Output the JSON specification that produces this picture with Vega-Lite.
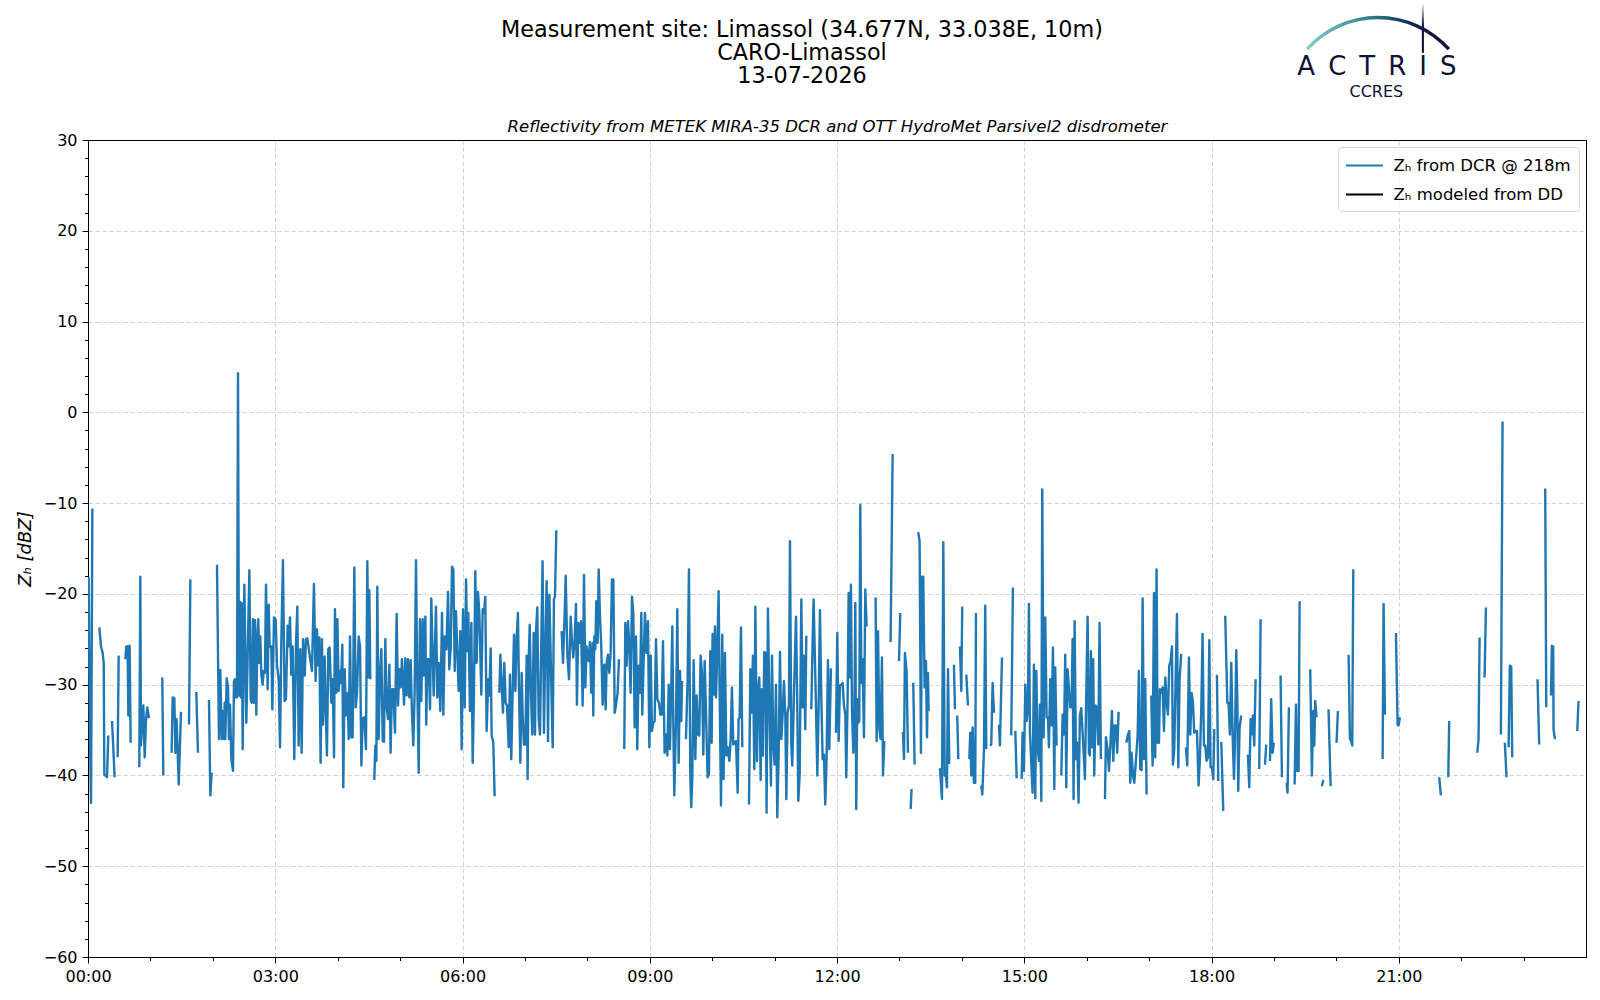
{
  "$schema": "https://vega.github.io/schema/vega-lite/v6.json",
  "description": "Reflectivity from METEK MIRA-35 DCR, Limassol, 13-07-2026",
  "width": 1498,
  "height": 817,
  "autosize": {"type": "none"},
  "padding": {"left": 88, "top": 140, "right": 14, "bottom": 43},
  "background": "white",
  "config": {
    "font": "DejaVu Sans",
    "view": {"stroke": "black", "strokeWidth": 1},
    "axis": {
      "domainColor": "black",
      "tickColor": "black",
      "labelColor": "black",
      "titleColor": "black",
      "labelFont": "DejaVu Sans",
      "titleFont": "DejaVu Sans",
      "gridColor": "#d4d4d4",
      "gridDash": [4.5, 2.5],
      "gridWidth": 1,
      "labelFlush": false
    }
  },
  "title": {
    "text": ["Measurement site: Limassol (34.677N, 33.038E, 10m)", "CARO-Limassol", "13-07-2026"],
    "fontSize": 22.3,
    "fontWeight": "normal",
    "lineHeight": 23,
    "color": "black",
    "anchor": "middle",
    "dx": -35,
    "offset": 0,
    "dy": 84
  },
  "data": {
    "values": [
      {"minute":0.6,"dbz":-18.1},{"minute":1.9,"dbz":-35.6},{"minute":2.9,"dbz":-43.0},{"minute":4.2,"dbz":-10.6},{"minute":5.0,"dbz":null},
      {"minute":10.9,"dbz":-23.7},{"minute":12.5,"dbz":-25.8},{"minute":14.1,"dbz":-26.5},{"minute":15.1,"dbz":-27.6},{"minute":15.7,"dbz":-39.9},{"minute":18.3,"dbz":-40.2},{"minute":19.5,"dbz":-35.6},{"minute":21.0,"dbz":null},
      {"minute":23.1,"dbz":-34.0},{"minute":25.6,"dbz":-40.2},{"minute":27.5,"dbz":null},
      {"minute":28.5,"dbz":-38.0},{"minute":29.5,"dbz":-26.8},{"minute":32.0,"dbz":null},
      {"minute":35.9,"dbz":-27.2},{"minute":36.8,"dbz":-25.8},{"minute":38.1,"dbz":-25.8},{"minute":38.8,"dbz":-33.4},{"minute":40.0,"dbz":-25.7},{"minute":41.0,"dbz":-36.4},{"minute":43.0,"dbz":null},
      {"minute":49.3,"dbz":-39.1},{"minute":50.3,"dbz":-18.1},{"minute":50.9,"dbz":-36.7},{"minute":53.2,"dbz":-32.3},{"minute":54.5,"dbz":-38.0},{"minute":55.8,"dbz":-33.8},{"minute":57.0,"dbz":-32.5},{"minute":58.6,"dbz":-33.7},{"minute":60.0,"dbz":null},
      {"minute":71.4,"dbz":-29.2},{"minute":72.4,"dbz":-40.0},{"minute":74.0,"dbz":null},
      {"minute":80.4,"dbz":-37.5},{"minute":81.4,"dbz":-31.4},{"minute":83.0,"dbz":-31.5},{"minute":84.0,"dbz":-37.5},{"minute":85.2,"dbz":-33.8},{"minute":87.2,"dbz":-41.0},{"minute":89.4,"dbz":-33.0},{"minute":91.0,"dbz":null},
      {"minute":97.1,"dbz":-34.4},{"minute":98.4,"dbz":-18.4},{"minute":100.0,"dbz":null},
      {"minute":104.1,"dbz":-30.8},{"minute":105.7,"dbz":-37.5},{"minute":107.0,"dbz":null},
      {"minute":116.3,"dbz":-31.7},{"minute":117.6,"dbz":-42.2},{"minute":118.9,"dbz":-39.7},{"minute":120.0,"dbz":null},
      {"minute":124.0,"dbz":-16.8},{"minute":125.9,"dbz":-36.0},{"minute":127.2,"dbz":-28.4},{"minute":128.5,"dbz":-36.0},{"minute":129.1,"dbz":-32.9},{"minute":130.7,"dbz":-36.0},{"minute":131.4,"dbz":-32.0},{"minute":132.0,"dbz":-36.0},{"minute":133.3,"dbz":-29.3},{"minute":134.6,"dbz":-30.3},{"minute":135.5,"dbz":-36.0},{"minute":136.5,"dbz":-32.2},{"minute":137.8,"dbz":-38.2},{"minute":139.4,"dbz":-39.5},{"minute":140.3,"dbz":-29.6},{"minute":141.3,"dbz":-29.4},{"minute":142.0,"dbz":-31.4},{"minute":143.2,"dbz":-31.4},{"minute":144.2,"dbz":4.3},{"minute":145.1,"dbz":-31.2},{"minute":146.1,"dbz":-20.9},{"minute":147.1,"dbz":-31.4},{"minute":147.7,"dbz":-21.0},{"minute":148.7,"dbz":-37.1},{"minute":150.3,"dbz":-19.0},{"minute":152.2,"dbz":-34.2},{"minute":155.1,"dbz":-17.4},{"minute":156.4,"dbz":-31.6},{"minute":157.3,"dbz":-32.0},{"minute":158.6,"dbz":-22.8},{"minute":159.6,"dbz":-32.0},{"minute":160.5,"dbz":-22.9},{"minute":161.8,"dbz":-33.3},{"minute":162.8,"dbz":-24.8},{"minute":163.7,"dbz":-22.8},{"minute":164.7,"dbz":-27.6},{"minute":165.6,"dbz":-24.7},{"minute":166.6,"dbz":-28.9},{"minute":167.9,"dbz":-30.0},{"minute":168.8,"dbz":-28.5},{"minute":170.1,"dbz":-28.7},{"minute":171.1,"dbz":-19.0},{"minute":172.7,"dbz":-30.5},{"minute":173.7,"dbz":-21.2},{"minute":174.6,"dbz":-25.8},{"minute":176.2,"dbz":-25.8},{"minute":177.2,"dbz":-32.7},{"minute":178.8,"dbz":-22.6},{"minute":180.4,"dbz":-22.8},{"minute":181.7,"dbz":-27.9},{"minute":183.3,"dbz":-29.4},{"minute":184.6,"dbz":-36.9},{"minute":185.8,"dbz":-25.4},{"minute":187.4,"dbz":-16.3},{"minute":189.0,"dbz":-31.8},{"minute":190.3,"dbz":-31.6},{"minute":191.9,"dbz":-23.5},{"minute":192.6,"dbz":-25.8},{"minute":194.2,"dbz":-22.6},{"minute":195.4,"dbz":-28.9},{"minute":196.7,"dbz":-25.8},{"minute":198.3,"dbz":-38.2},{"minute":199.9,"dbz":-25.8},{"minute":201.2,"dbz":-21.4},{"minute":202.5,"dbz":-36.7},{"minute":204.1,"dbz":-26.1},{"minute":205.4,"dbz":-37.5},{"minute":206.7,"dbz":-25.0},{"minute":208.3,"dbz":-29.0},{"minute":209.5,"dbz":-25.0},{"minute":210.8,"dbz":-24.9},{"minute":215.3,"dbz":-28.5},{"minute":217.2,"dbz":-18.9},{"minute":218.8,"dbz":-29.6},{"minute":220.1,"dbz":-23.9},{"minute":221.4,"dbz":-27.9},{"minute":222.4,"dbz":-24.8},{"minute":223.6,"dbz":-38.6},{"minute":224.9,"dbz":-25.0},{"minute":225.9,"dbz":-34.4},{"minute":227.5,"dbz":-26.9},{"minute":228.4,"dbz":-32.2},{"minute":229.7,"dbz":-37.8},{"minute":231.0,"dbz":-26.1},{"minute":232.3,"dbz":-25.9},{"minute":233.9,"dbz":-32.0},{"minute":235.2,"dbz":-29.4},{"minute":236.5,"dbz":-38.0},{"minute":237.4,"dbz":-21.7},{"minute":238.7,"dbz":-30.9},{"minute":239.7,"dbz":-22.8},{"minute":241.0,"dbz":-30.7},
      {"minute":242.2,"dbz":-28.5},{"minute":243.2,"dbz":-29.8},{"minute":244.5,"dbz":-25.6},{"minute":245.4,"dbz":-41.3},{"minute":246.7,"dbz":-28.3},{"minute":248.0,"dbz":-33.4},{"minute":249.6,"dbz":-30.9},{"minute":250.6,"dbz":-36.0},{"minute":251.9,"dbz":-24.7},{"minute":253.1,"dbz":-35.8},{"minute":254.4,"dbz":-35.8},{"minute":256.0,"dbz":-17.1},{"minute":257.3,"dbz":-32.5},{"minute":258.6,"dbz":-30.9},{"minute":260.2,"dbz":-24.7},{"minute":261.5,"dbz":-25.8},{"minute":262.8,"dbz":-38.9},{"minute":264.0,"dbz":-33.7},{"minute":265.6,"dbz":-33.6},{"minute":267.2,"dbz":-37.1},{"minute":268.5,"dbz":-16.4},{"minute":269.8,"dbz":-29.2},{"minute":270.4,"dbz":-19.6},{"minute":271.4,"dbz":-29.4},{"minute":272.5,"dbz":null},
      {"minute":275.2,"dbz":-40.5},{"minute":276.2,"dbz":-36.7},{"minute":277.2,"dbz":-38.4},{"minute":278.1,"dbz":-19.2},{"minute":279.4,"dbz":-36.0},{"minute":280.7,"dbz":-29.0},{"minute":282.0,"dbz":-26.1},{"minute":283.3,"dbz":-36.2},{"minute":284.5,"dbz":-36.3},{"minute":285.8,"dbz":-25.0},{"minute":287.1,"dbz":-32.5},{"minute":288.4,"dbz":-33.8},{"minute":289.7,"dbz":-27.8},{"minute":290.9,"dbz":-37.5},{"minute":292.2,"dbz":-30.5},{"minute":293.5,"dbz":-30.5},{"minute":295.1,"dbz":-35.3},{"minute":296.7,"dbz":-22.2},{"minute":298.0,"dbz":-32.3},{"minute":299.3,"dbz":-28.3},{"minute":300.6,"dbz":-30.3},{"minute":301.8,"dbz":-27.2},{"minute":303.8,"dbz":-32.2},{"minute":305.0,"dbz":-27.1},{"minute":306.3,"dbz":-31.2},{"minute":307.6,"dbz":-27.2},{"minute":308.9,"dbz":-31.4},{"minute":310.2,"dbz":-27.3},{"minute":311.4,"dbz":-33.1},{"minute":312.7,"dbz":-36.7},{"minute":314.0,"dbz":-30.9},{"minute":315.3,"dbz":-16.3},{"minute":316.6,"dbz":-30.3},{"minute":317.9,"dbz":-39.7},{"minute":319.1,"dbz":-22.8},{"minute":320.4,"dbz":-31.8},{"minute":321.7,"dbz":-22.8},{"minute":322.7,"dbz":-29.0},{"minute":324.3,"dbz":-22.5},{"minute":325.2,"dbz":-34.4},{"minute":326.2,"dbz":-27.2},{"minute":327.5,"dbz":-27.2},{"minute":328.8,"dbz":-32.7},{"minute":330.0,"dbz":-20.5},{"minute":332.3,"dbz":-31.2},{"minute":334.5,"dbz":-21.4},{"minute":335.8,"dbz":-31.4},{"minute":337.1,"dbz":-27.6},{"minute":338.7,"dbz":-32.9},{"minute":340.3,"dbz":-22.1},{"minute":341.6,"dbz":-33.3},{"minute":342.9,"dbz":-24.7},{"minute":344.5,"dbz":-26.1},{"minute":346.1,"dbz":-19.8},{"minute":347.3,"dbz":-28.3},{"minute":348.6,"dbz":-26.1},{"minute":349.9,"dbz":-17.0},{"minute":351.2,"dbz":-17.3},{"minute":352.5,"dbz":-28.5},{"minute":353.7,"dbz":-21.9},{"minute":355.0,"dbz":-26.3},{"minute":356.3,"dbz":-30.7},{"minute":357.9,"dbz":-24.1},{"minute":359.2,"dbz":-37.1},{"minute":360.5,"dbz":-21.7},{"minute":362.1,"dbz":-32.5},{"minute":363.4,"dbz":-18.4},{"minute":364.6,"dbz":-26.3},{"minute":365.6,"dbz":-22.1},{"minute":367.2,"dbz":-32.9},{"minute":368.5,"dbz":-23.2},{"minute":369.8,"dbz":-38.6},{"minute":371.0,"dbz":-31.2},{"minute":372.3,"dbz":-17.5},{"minute":373.6,"dbz":-27.6},{"minute":374.9,"dbz":-19.8},{"minute":376.2,"dbz":-22.1},{"minute":378.1,"dbz":-31.1},{"minute":379.4,"dbz":-21.7},{"minute":380.7,"dbz":-22.1},{"minute":381.9,"dbz":-20.3},{"minute":383.2,"dbz":-35.1},{"minute":384.8,"dbz":-29.4},{"minute":385.8,"dbz":-31.2},{"minute":387.1,"dbz":-26.0},{"minute":388.0,"dbz":-35.6},{"minute":389.6,"dbz":-36.4},{"minute":390.9,"dbz":-42.3},{"minute":392.0,"dbz":null},
      {"minute":395.4,"dbz":-30.9},{"minute":396.4,"dbz":-26.7},{"minute":397.6,"dbz":-29.8},{"minute":398.9,"dbz":-33.1},{"minute":400.2,"dbz":-27.6},{"minute":401.5,"dbz":-32.0},{"minute":402.8,"dbz":-32.3},{"minute":404.4,"dbz":-36.9},{"minute":405.6,"dbz":-28.9},{"minute":406.9,"dbz":-38.2},{"minute":407.9,"dbz":-32.3},{"minute":409.5,"dbz":-24.5},{"minute":410.8,"dbz":-30.7},{"minute":412.1,"dbz":-24.7},{"minute":413.3,"dbz":-22.1},{"minute":414.3,"dbz":-30.5},{"minute":415.6,"dbz":-38.6},{"minute":416.9,"dbz":-28.7},{"minute":417.8,"dbz":-33.3},{"minute":419.1,"dbz":-36.6},{"minute":420.4,"dbz":-36.6},{"minute":421.7,"dbz":-26.8},{"minute":422.6,"dbz":-40.4},{"minute":423.6,"dbz":-27.2},{"minute":424.6,"dbz":-23.4},{"minute":425.8,"dbz":-30.9},{"minute":427.1,"dbz":-35.5},{"minute":428.4,"dbz":-24.3},{"minute":429.7,"dbz":-35.5},{"minute":430.6,"dbz":-24.3},{"minute":431.9,"dbz":-21.5},{"minute":433.2,"dbz":-33.7},{"minute":434.5,"dbz":-35.5},{"minute":435.8,"dbz":-24.7},{"minute":437.0,"dbz":-16.4},{"minute":438.3,"dbz":-35.3},{"minute":439.3,"dbz":-27.9},{"minute":440.9,"dbz":-18.6},{"minute":442.2,"dbz":-36.2},{"minute":443.5,"dbz":-20.1},{"minute":445.1,"dbz":-28.7},{"minute":446.7,"dbz":-36.9},{"minute":447.9,"dbz":-20.6},{"minute":448.9,"dbz":-20.3},{"minute":450.2,"dbz":-13.0},{"minute":451.5,"dbz":null},
      {"minute":455.3,"dbz":-24.1},{"minute":456.6,"dbz":-27.6},{"minute":457.9,"dbz":-23.4},{"minute":459.2,"dbz":-18.0},{"minute":460.8,"dbz":-26.7},{"minute":462.4,"dbz":-29.4},{"minute":464.0,"dbz":-22.5},{"minute":465.2,"dbz":-25.2},{"minute":466.5,"dbz":-27.0},{"minute":467.8,"dbz":-25.0},{"minute":469.1,"dbz":-21.1},{"minute":470.0,"dbz":-32.2},{"minute":471.3,"dbz":-23.2},{"minute":472.6,"dbz":-25.4},{"minute":473.9,"dbz":-23.0},{"minute":475.5,"dbz":-32.3},{"minute":476.8,"dbz":-17.9},{"minute":478.1,"dbz":-30.3},{"minute":479.3,"dbz":-25.8},{"minute":480.6,"dbz":-27.0},
      {"minute":481.3,"dbz":-27.4},{"minute":482.5,"dbz":-25.3},{"minute":483.8,"dbz":-30.9},{"minute":485.1,"dbz":-25.4},{"minute":485.7,"dbz":-33.4},{"minute":486.7,"dbz":-24.7},{"minute":487.7,"dbz":-26.1},{"minute":488.6,"dbz":-20.8},{"minute":489.9,"dbz":-25.4},{"minute":490.9,"dbz":-17.3},{"minute":492.2,"dbz":-22.6},{"minute":493.4,"dbz":-25.8},{"minute":494.7,"dbz":-32.2},{"minute":496.3,"dbz":-27.8},{"minute":497.6,"dbz":-32.7},{"minute":498.6,"dbz":-27.6},{"minute":499.8,"dbz":-26.7},{"minute":501.1,"dbz":-28.7},{"minute":502.4,"dbz":-26.5},{"minute":503.7,"dbz":-18.4},{"minute":505.0,"dbz":-18.4},{"minute":506.3,"dbz":-33.1},{"minute":507.5,"dbz":-32.3},{"minute":509.1,"dbz":-30.9},{"minute":510.4,"dbz":-27.2},{"minute":512.0,"dbz":null},
      {"minute":515.5,"dbz":-37.1},{"minute":516.5,"dbz":-23.2},{"minute":517.8,"dbz":-27.9},{"minute":519.1,"dbz":-23.0},{"minute":520.4,"dbz":-25.8},{"minute":521.6,"dbz":-30.9},{"minute":522.9,"dbz":-20.3},{"minute":524.2,"dbz":-22.1},{"minute":525.5,"dbz":-34.7},{"minute":526.8,"dbz":-24.7},{"minute":528.0,"dbz":-37.1},{"minute":529.3,"dbz":-27.9},{"minute":530.6,"dbz":-30.9},{"minute":531.9,"dbz":-22.1},{"minute":532.8,"dbz":-33.3},{"minute":534.1,"dbz":-27.4},{"minute":535.4,"dbz":-22.1},{"minute":536.7,"dbz":-26.5},{"minute":538.3,"dbz":-23.0},{"minute":539.6,"dbz":-36.9},{"minute":540.9,"dbz":-26.8},{"minute":542.1,"dbz":-35.1},{"minute":543.4,"dbz":-34.2},{"minute":544.7,"dbz":-34.0},{"minute":546.0,"dbz":-25.0},{"minute":547.3,"dbz":-31.6},{"minute":548.9,"dbz":-32.0},{"minute":550.1,"dbz":-33.3},{"minute":551.4,"dbz":-33.3},{"minute":552.7,"dbz":-25.2},{"minute":554.3,"dbz":-37.5},{"minute":555.6,"dbz":-35.5},{"minute":556.9,"dbz":-37.8},{"minute":558.2,"dbz":-30.0},{"minute":559.4,"dbz":-37.1},{"minute":560.7,"dbz":-30.0},{"minute":561.7,"dbz":-23.6},{"minute":562.6,"dbz":-34.0},{"minute":563.6,"dbz":-42.2},{"minute":565.2,"dbz":-34.2},{"minute":566.5,"dbz":-21.7},{"minute":567.8,"dbz":-38.6},{"minute":569.1,"dbz":-28.5},{"minute":570.3,"dbz":-34.0},{"minute":571.0,"dbz":-29.6},{"minute":572.5,"dbz":null},
      {"minute":574.8,"dbz":-36.0},{"minute":576.4,"dbz":-29.4},{"minute":577.7,"dbz":-17.3},{"minute":579.0,"dbz":-40.2},{"minute":579.9,"dbz":-43.5},{"minute":580.9,"dbz":-40.2},{"minute":582.2,"dbz":-27.3},{"minute":583.8,"dbz":-38.2},{"minute":585.1,"dbz":-31.2},{"minute":586.4,"dbz":-35.5},{"minute":587.6,"dbz":-35.6},{"minute":588.9,"dbz":-26.8},{"minute":590.2,"dbz":-28.7},{"minute":591.5,"dbz":-37.7},{"minute":592.8,"dbz":-27.4},{"minute":594.0,"dbz":-32.7},{"minute":595.6,"dbz":-40.2},{"minute":596.9,"dbz":-39.9},{"minute":598.2,"dbz":-26.3},{"minute":599.5,"dbz":-36.4},{"minute":600.4,"dbz":-24.4},{"minute":601.7,"dbz":-31.1},{"minute":602.7,"dbz":-23.6},{"minute":603.7,"dbz":-31.4},{"minute":604.9,"dbz":-26.5},{"minute":606.2,"dbz":-19.7},{"minute":607.2,"dbz":-30.9},{"minute":608.5,"dbz":-43.3},{"minute":609.7,"dbz":-24.5},{"minute":611.0,"dbz":-40.4},{"minute":612.3,"dbz":-26.5},{"minute":613.6,"dbz":-37.8},{"minute":614.9,"dbz":-36.9},{"minute":616.5,"dbz":-38.4},{"minute":617.8,"dbz":-36.0},{"minute":619.0,"dbz":-30.3},{"minute":620.3,"dbz":-36.6},{"minute":621.6,"dbz":-36.4},{"minute":622.9,"dbz":-36.2},{"minute":624.5,"dbz":-41.9},{"minute":625.4,"dbz":-33.8},{"minute":626.4,"dbz":-33.6},{"minute":627.7,"dbz":-23.7},{"minute":629.0,"dbz":-36.9},{"minute":630.5,"dbz":null},
      {"minute":635.4,"dbz":-43.2},{"minute":636.7,"dbz":-28.3},{"minute":638.0,"dbz":-33.1},{"minute":639.2,"dbz":-26.8},{"minute":640.5,"dbz":-39.3},{"minute":641.5,"dbz":-21.4},{"minute":643.1,"dbz":-38.4},{"minute":644.0,"dbz":-30.9},{"minute":645.3,"dbz":-29.2},{"minute":646.6,"dbz":-40.5},{"minute":647.5,"dbz":-30.5},{"minute":648.8,"dbz":-37.8},{"minute":650.1,"dbz":-26.4},{"minute":651.4,"dbz":-26.5},{"minute":652.3,"dbz":-44.1},{"minute":653.6,"dbz":-21.6},{"minute":655.2,"dbz":-33.6},{"minute":656.5,"dbz":-41.1},{"minute":657.5,"dbz":-26.8},{"minute":658.8,"dbz":-36.6},{"minute":660.0,"dbz":-38.8},{"minute":661.3,"dbz":-30.0},{"minute":662.6,"dbz":-44.6},{"minute":663.9,"dbz":-37.8},{"minute":665.2,"dbz":-26.4},{"minute":666.5,"dbz":-36.0},{"minute":667.7,"dbz":-33.4},{"minute":669.0,"dbz":-29.6},{"minute":670.3,"dbz":-33.3},{"minute":671.3,"dbz":-42.6},{"minute":672.5,"dbz":-33.1},{"minute":673.8,"dbz":-32.3},{"minute":674.8,"dbz":-14.2},{"minute":676.1,"dbz":-36.7},{"minute":677.0,"dbz":-38.9},{"minute":679.0,"dbz":-29.2},{"minute":680.6,"dbz":-22.5},{"minute":681.8,"dbz":-32.0},{"minute":682.8,"dbz":-42.8},{"minute":684.1,"dbz":-40.0},{"minute":685.7,"dbz":-20.6},{"minute":687.0,"dbz":-32.5},{"minute":688.2,"dbz":-26.8},{"minute":689.5,"dbz":-34.9},{"minute":690.5,"dbz":-24.6},{"minute":692.0,"dbz":null},
      {"minute":695.3,"dbz":-32.7},{"minute":696.6,"dbz":-25.0},{"minute":697.5,"dbz":-20.6},{"minute":699.8,"dbz":-32.5},{"minute":701.1,"dbz":-40.0},{"minute":702.3,"dbz":-32.7},{"minute":703.6,"dbz":-21.8},{"minute":704.9,"dbz":-31.2},{"minute":706.2,"dbz":-38.2},{"minute":707.5,"dbz":-37.7},{"minute":708.7,"dbz":-43.2},{"minute":710.0,"dbz":-38.2},{"minute":711.3,"dbz":-27.3},{"minute":712.6,"dbz":-37.1},{"minute":714.2,"dbz":-28.2},{"minute":715.5,"dbz":null},
      {"minute":719.0,"dbz":-35.3},{"minute":720.3,"dbz":-24.3},{"minute":721.6,"dbz":-36.2},{"minute":722.8,"dbz":-30.1},{"minute":724.1,"dbz":-30.0},{"minute":725.4,"dbz":-29.8},{"minute":726.7,"dbz":-32.3},{"minute":728.0,"dbz":-33.3},{"minute":728.9,"dbz":-40.2},{"minute":730.2,"dbz":-31.6},{"minute":731.2,"dbz":-19.9},{"minute":732.1,"dbz":-29.2},{"minute":733.4,"dbz":-19.0},{"minute":734.4,"dbz":-32.7},{"minute":735.7,"dbz":-37.5},{"minute":736.6,"dbz":-34.5},{"minute":737.6,"dbz":-21.0},{"minute":738.5,"dbz":-43.7},{"minute":739.5,"dbz":-31.6},{"minute":740.5,"dbz":-34.2},{"minute":741.4,"dbz":-34.0},{"minute":742.4,"dbz":-10.2},{"minute":743.4,"dbz":-29.8},{"minute":744.6,"dbz":-27.2},{"minute":745.9,"dbz":-35.8},{"minute":747.2,"dbz":-19.5},{"minute":748.5,"dbz":-23.6},{"minute":750.0,"dbz":null},
      {"minute":757.1,"dbz":-20.4},{"minute":758.1,"dbz":-36.2},{"minute":759.4,"dbz":-24.1},{"minute":760.7,"dbz":-34.9},{"minute":761.9,"dbz":-36.0},{"minute":763.2,"dbz":-27.0},{"minute":764.2,"dbz":-40.0},{"minute":765.5,"dbz":-36.2},{"minute":767.0,"dbz":null},
      {"minute":771.5,"dbz":-25.3},{"minute":773.5,"dbz":-4.6},{"minute":775.0,"dbz":null},
      {"minute":779.6,"dbz":-27.4},{"minute":780.8,"dbz":-22.1},{"minute":782.0,"dbz":null},
      {"minute":783.4,"dbz":-35.2},{"minute":784.4,"dbz":-38.2},{"minute":785.3,"dbz":-26.5},{"minute":786.9,"dbz":-28.5},{"minute":788.2,"dbz":-37.5},{"minute":790.0,"dbz":null},
      {"minute":790.8,"dbz":-43.7},{"minute":791.7,"dbz":-41.5},{"minute":792.6,"dbz":null},
      {"minute":793.3,"dbz":-29.8},{"minute":794.6,"dbz":-38.8},{"minute":796.0,"dbz":null},
      {"minute":798.1,"dbz":-13.2},{"minute":799.4,"dbz":-14.2},{"minute":800.7,"dbz":-37.5},{"minute":801.7,"dbz":-18.1},{"minute":802.9,"dbz":-18.1},{"minute":804.2,"dbz":-30.3},{"minute":805.5,"dbz":-27.4},{"minute":806.5,"dbz":-35.8},{"minute":807.4,"dbz":-28.7},{"minute":808.1,"dbz":-32.9},{"minute":809.0,"dbz":null},
      {"minute":819.0,"dbz":-39.2},{"minute":820.9,"dbz":-42.6},{"minute":822.2,"dbz":-14.3},{"minute":823.5,"dbz":-40.0},{"minute":824.7,"dbz":-39.9},{"minute":825.7,"dbz":-41.3},{"minute":826.7,"dbz":-28.3},{"minute":827.9,"dbz":-38.6},{"minute":828.9,"dbz":-38.6},{"minute":830.0,"dbz":null},
      {"minute":832.4,"dbz":-27.8},{"minute":833.4,"dbz":-32.7},{"minute":834.5,"dbz":null},
      {"minute":835.6,"dbz":-33.4},{"minute":836.6,"dbz":-38.2},{"minute":837.5,"dbz":null},
      {"minute":838.2,"dbz":-25.8},{"minute":839.5,"dbz":-30.7},{"minute":840.4,"dbz":-21.4},{"minute":842.0,"dbz":null},
      {"minute":844.3,"dbz":-28.9},{"minute":845.9,"dbz":-32.3},{"minute":846.6,"dbz":null},
      {"minute":847.2,"dbz":-38.2},{"minute":848.1,"dbz":-35.3},{"minute":849.1,"dbz":-40.0},{"minute":850.4,"dbz":-34.7},{"minute":851.6,"dbz":-40.8},{"minute":852.9,"dbz":-40.8},{"minute":853.6,"dbz":-22.1},{"minute":855.0,"dbz":null},
      {"minute":858.7,"dbz":-41.1},{"minute":859.7,"dbz":-42.1},{"minute":861.3,"dbz":-37.1},{"minute":862.5,"dbz":-21.3},{"minute":863.5,"dbz":-37.1},{"minute":865.0,"dbz":null},
      {"minute":867.0,"dbz":-36.7},{"minute":868.3,"dbz":-36.6},{"minute":869.6,"dbz":-29.8},{"minute":870.9,"dbz":-33.1},{"minute":872.0,"dbz":null},
      {"minute":875.7,"dbz":-34.4},{"minute":876.6,"dbz":-36.7},{"minute":878.6,"dbz":-27.0},{"minute":880.0,"dbz":null},
      {"minute":887.5,"dbz":-35.6},{"minute":889.1,"dbz":-19.3},{"minute":890.5,"dbz":null},
      {"minute":891.4,"dbz":-35.1},{"minute":892.7,"dbz":-40.3},{"minute":894.0,"dbz":null},
      {"minute":897.5,"dbz":-40.4},{"minute":898.4,"dbz":-35.3},{"minute":899.7,"dbz":-39.5},{"minute":901.0,"dbz":-30.0},{"minute":902.3,"dbz":-34.0},{"minute":903.5,"dbz":-32.7},{"minute":904.5,"dbz":-21.1},{"minute":905.5,"dbz":-35.3},{"minute":908.0,"dbz":-41.9},{"minute":909.3,"dbz":-27.8},{"minute":910.6,"dbz":-42.5},{"minute":911.6,"dbz":-28.5},{"minute":912.8,"dbz":-36.9},{"minute":914.1,"dbz":-38.4},{"minute":915.1,"dbz":-32.2},{"minute":916.4,"dbz":-42.8},{"minute":917.3,"dbz":-8.5},{"minute":918.6,"dbz":-35.8},{"minute":920.2,"dbz":-22.6},{"minute":921.5,"dbz":-33.6},{"minute":922.8,"dbz":-33.6},{"minute":923.7,"dbz":-36.9},{"minute":925.0,"dbz":-29.4},{"minute":926.3,"dbz":-34.5},{"minute":927.6,"dbz":-25.9},{"minute":928.9,"dbz":-41.5},{"minute":929.8,"dbz":-28.1},{"minute":931.1,"dbz":-36.7},{"minute":932.5,"dbz":null},
      {"minute":935.6,"dbz":-40.0},{"minute":936.9,"dbz":-33.3},{"minute":938.2,"dbz":-35.5},{"minute":939.4,"dbz":-26.7},{"minute":940.4,"dbz":-41.3},{"minute":941.7,"dbz":-28.3},{"minute":944.2,"dbz":-32.5},{"minute":945.5,"dbz":-32.5},{"minute":946.5,"dbz":-25.0},{"minute":947.4,"dbz":-42.6},{"minute":948.4,"dbz":-23.0},{"minute":949.7,"dbz":-38.2},{"minute":951.0,"dbz":-36.4},{"minute":952.2,"dbz":-43.0},{"minute":953.5,"dbz":-33.4},{"minute":954.8,"dbz":-32.6},{"minute":956.1,"dbz":-35.3},{"minute":957.1,"dbz":-37.5},{"minute":958.3,"dbz":-40.4},{"minute":959.6,"dbz":-31.1},{"minute":960.9,"dbz":-22.5},{"minute":962.2,"dbz":-37.5},
      {"minute":963.1,"dbz":-37.8},{"minute":964.1,"dbz":-26.3},{"minute":965.4,"dbz":-36.9},{"minute":966.3,"dbz":-27.2},{"minute":967.3,"dbz":-40.0},{"minute":968.6,"dbz":-32.3},{"minute":969.9,"dbz":-32.5},{"minute":971.2,"dbz":-36.6},{"minute":972.4,"dbz":-23.2},{"minute":973.7,"dbz":-38.2},{"minute":975.0,"dbz":null},
      {"minute":977.6,"dbz":-42.6},{"minute":978.5,"dbz":-35.8},{"minute":980.1,"dbz":-37.1},{"minute":981.4,"dbz":-39.5},{"minute":982.7,"dbz":-36.9},{"minute":984.3,"dbz":-32.9},{"minute":985.6,"dbz":-38.4},{"minute":986.9,"dbz":-34.5},{"minute":988.1,"dbz":-34.5},{"minute":989.4,"dbz":-37.5},{"minute":990.7,"dbz":-33.0},{"minute":992.0,"dbz":null},
      {"minute":998.1,"dbz":-36.4},{"minute":999.7,"dbz":-35.5},{"minute":1001.0,"dbz":-35.1},{"minute":1001.9,"dbz":-40.8},{"minute":1003.2,"dbz":-37.5},{"minute":1004.5,"dbz":-40.0},{"minute":1005.8,"dbz":-40.8},{"minute":1007.0,"dbz":-38.9},{"minute":1009.0,"dbz":-35.6},{"minute":1010.2,"dbz":-28.5},{"minute":1011.5,"dbz":-39.3},{"minute":1012.8,"dbz":-39.4},{"minute":1013.8,"dbz":-20.5},{"minute":1015.0,"dbz":-38.2},{"minute":1016.3,"dbz":-29.4},{"minute":1017.6,"dbz":-42.1},{"minute":1019.0,"dbz":null},
      {"minute":1022.1,"dbz":-31.2},{"minute":1023.4,"dbz":-38.9},{"minute":1024.7,"dbz":-19.9},{"minute":1025.9,"dbz":-38.0},{"minute":1027.2,"dbz":-17.3},{"minute":1028.2,"dbz":-36.4},{"minute":1029.5,"dbz":-36.4},{"minute":1030.4,"dbz":-30.5},{"minute":1031.7,"dbz":-30.9},{"minute":1033.0,"dbz":-30.3},{"minute":1034.3,"dbz":-35.1},{"minute":1035.6,"dbz":-29.2},{"minute":1036.8,"dbz":-31.8},{"minute":1038.1,"dbz":-33.3},{"minute":1039.4,"dbz":-27.9},{"minute":1040.7,"dbz":-27.4},{"minute":1042.0,"dbz":-25.8},{"minute":1042.9,"dbz":-38.8},{"minute":1044.2,"dbz":-37.1},{"minute":1045.5,"dbz":-29.4},{"minute":1046.8,"dbz":-22.2},{"minute":1048.1,"dbz":-39.1},{"minute":1049.3,"dbz":-29.4},{"minute":1050.9,"dbz":-26.6},{"minute":1052.0,"dbz":null},
      {"minute":1055.4,"dbz":-36.9},{"minute":1056.7,"dbz":-38.9},{"minute":1058.3,"dbz":-27.0},{"minute":1059.6,"dbz":-35.5},{"minute":1060.9,"dbz":-30.9},{"minute":1062.1,"dbz":-31.8},{"minute":1063.4,"dbz":-35.3},{"minute":1064.7,"dbz":-35.1},{"minute":1066.0,"dbz":-35.1},{"minute":1067.6,"dbz":-41.1},{"minute":1068.9,"dbz":-38.0},{"minute":1070.2,"dbz":-32.5},{"minute":1071.4,"dbz":-24.4},{"minute":1072.7,"dbz":-36.7},{"minute":1074.0,"dbz":-36.7},{"minute":1075.3,"dbz":-38.4},{"minute":1076.6,"dbz":-38.0},{"minute":1077.9,"dbz":-25.1},{"minute":1079.1,"dbz":-39.1},{"minute":1080.4,"dbz":-39.1},{"minute":1081.7,"dbz":-40.4},{"minute":1082.7,"dbz":-34.9},{"minute":1084.0,"dbz":null},
      {"minute":1085.2,"dbz":-28.9},{"minute":1086.5,"dbz":-40.6},{"minute":1088.0,"dbz":null},
      {"minute":1089.4,"dbz":-36.3},{"minute":1091.3,"dbz":-43.9},{"minute":1092.5,"dbz":null},
      {"minute":1093.2,"dbz":-22.4},{"minute":1095.2,"dbz":-32.0},{"minute":1096.4,"dbz":-32.0},{"minute":1097.7,"dbz":-35.5},{"minute":1099.0,"dbz":-27.6},{"minute":1100.3,"dbz":-35.5},{"minute":1101.6,"dbz":-40.4},{"minute":1102.5,"dbz":-36.6},{"minute":1103.8,"dbz":-26.2},{"minute":1104.8,"dbz":-31.2},{"minute":1105.7,"dbz":-41.7},{"minute":1107.0,"dbz":-34.7},{"minute":1108.6,"dbz":-33.4},{"minute":1110.0,"dbz":null},
      {"minute":1115.0,"dbz":-37.7},{"minute":1116.3,"dbz":-41.3},{"minute":1117.6,"dbz":-33.8},{"minute":1118.5,"dbz":-35.5},{"minute":1119.8,"dbz":-33.4},{"minute":1121.1,"dbz":-36.7},{"minute":1122.4,"dbz":-29.4},{"minute":1124.0,"dbz":null},
      {"minute":1125.9,"dbz":-39.3},{"minute":1127.2,"dbz":-22.8},{"minute":1128.5,"dbz":null},
      {"minute":1131.4,"dbz":-38.8},{"minute":1132.6,"dbz":-36.6},{"minute":1134.0,"dbz":null},
      {"minute":1136.2,"dbz":-38.4},{"minute":1137.4,"dbz":-31.6},{"minute":1138.7,"dbz":-37.5},{"minute":1140.0,"dbz":-36.4},{"minute":1141.5,"dbz":null},
      {"minute":1146.4,"dbz":-29.0},{"minute":1147.7,"dbz":-40.2},{"minute":1149.0,"dbz":null},
      {"minute":1152.2,"dbz":-40.8},{"minute":1153.1,"dbz":-41.9},{"minute":1154.4,"dbz":-32.5},{"minute":1156.0,"dbz":null},
      {"minute":1159.9,"dbz":-41.0},{"minute":1161.2,"dbz":-32.2},{"minute":1162.4,"dbz":-39.5},{"minute":1163.7,"dbz":-39.5},{"minute":1164.7,"dbz":-20.8},{"minute":1166.0,"dbz":null},
      {"minute":1174.9,"dbz":-28.3},{"minute":1176.5,"dbz":-40.0},{"minute":1177.8,"dbz":-32.9},{"minute":1178.8,"dbz":-36.7},{"minute":1179.7,"dbz":-31.8},{"minute":1181.0,"dbz":-33.6},{"minute":1182.5,"dbz":null},
      {"minute":1186.1,"dbz":-41.2},{"minute":1187.4,"dbz":-40.5},{"minute":1189.0,"dbz":null},
      {"minute":1192.5,"dbz":-32.7},{"minute":1194.5,"dbz":-41.2},{"minute":1196.0,"dbz":null},
      {"minute":1200.2,"dbz":-36.4},{"minute":1201.5,"dbz":-32.9},{"minute":1203.0,"dbz":null},
      {"minute":1211.8,"dbz":-26.7},{"minute":1213.1,"dbz":-36.0},{"minute":1214.3,"dbz":-36.2},{"minute":1215.3,"dbz":-36.7},{"minute":1216.3,"dbz":-17.3},{"minute":1217.5,"dbz":null},
      {"minute":1244.5,"dbz":-38.2},{"minute":1245.4,"dbz":-21.1},{"minute":1246.7,"dbz":-33.3},{"minute":1248.0,"dbz":null},
      {"minute":1257.3,"dbz":-24.3},{"minute":1258.9,"dbz":-34.4},{"minute":1259.8,"dbz":-34.5},{"minute":1261.1,"dbz":-33.6},{"minute":1262.5,"dbz":null},
      {"minute":1298.9,"dbz":-40.2},{"minute":1300.5,"dbz":-42.2},{"minute":1302.0,"dbz":null},
      {"minute":1307.6,"dbz":-40.2},{"minute":1308.5,"dbz":-34.0},{"minute":1310.0,"dbz":null},
      {"minute":1335.5,"dbz":-37.5},{"minute":1336.7,"dbz":-36.0},{"minute":1337.7,"dbz":-24.8},{"minute":1339.0,"dbz":null},
      {"minute":1342.5,"dbz":-29.2},{"minute":1343.8,"dbz":-21.5},{"minute":1345.0,"dbz":null},
      {"minute":1358.2,"dbz":-35.5},{"minute":1359.8,"dbz":-1.0},{"minute":1361.0,"dbz":null},
      {"minute":1362.0,"dbz":-36.4},{"minute":1363.6,"dbz":-40.2},{"minute":1364.8,"dbz":null},
      {"minute":1365.6,"dbz":-36.9},{"minute":1366.8,"dbz":-27.9},{"minute":1368.1,"dbz":-28.0},{"minute":1369.1,"dbz":-38.0},{"minute":1370.5,"dbz":null},
      {"minute":1393.4,"dbz":-29.4},{"minute":1395.0,"dbz":-36.6},{"minute":1396.5,"dbz":null},
      {"minute":1400.8,"dbz":-8.4},{"minute":1401.8,"dbz":-32.5},{"minute":1403.0,"dbz":null},
      {"minute":1406.3,"dbz":-31.2},{"minute":1407.2,"dbz":-25.7},{"minute":1408.5,"dbz":-25.8},{"minute":1408.8,"dbz":-34.9},{"minute":1410.1,"dbz":-36.0},{"minute":1411.5,"dbz":null},
      {"minute":1431.6,"dbz":-35.1},{"minute":1432.8,"dbz":-31.8}
    ]
  },
  "layer": [
    {
      "mark": {"type": "line", "strokeWidth": 2.4, "strokeJoin": "round", "clip": true},
      "encoding": {
        "x": {
          "field": "minute", "type": "quantitative",
          "scale": {"domain": [0, 1440], "nice": false, "zero": false},
          "axis": {
            "orient": "bottom", "title": null,
            "values": [0, 180, 360, 540, 720, 900, 1080, 1260],
            "labelExpr": "utcFormat(datum.value * 60000, '%H:%M')",
            "tickSize": 6, "labelPadding": 5, "labelFontSize": 16, "grid": true
          }
        },
        "y": {
          "field": "dbz", "type": "quantitative",
          "scale": {"domain": [-60, 30], "nice": false, "zero": false},
          "axis": {
            "orient": "left", "title": "Zₕ [dBZ]",
            "values": [-60, -50, -40, -30, -20, -10, 0, 10, 20, 30],
            "tickSize": 6, "labelPadding": 5, "labelFontSize": 16, "grid": false,
            "titleFontStyle": "italic", "titleFontSize": 18, "titleFontWeight": "normal", "titlePadding": 9
          }
        },
        "color": {
          "datum": "Zₕ from DCR @ 218m",
          "scale": {"domain": ["Zₕ from DCR @ 218m", "Zₕ modeled from DD"], "range": ["#1f77b4", "#000000"]},
          "legend": {
            "title": null, "orient": "top-right", "offset": 7,
            "symbolType": "M-1.05,0L2.65,0", "symbolSize": 400, "symbolStrokeWidth": 2,
            "labelFontSize": 16.5, "labelOffset": 26, "labelLimit": 400, "labelColor": "black",
            "rowPadding": 9, "padding": 7.5,
            "fillColor": "rgba(255,255,255,0.8)", "strokeColor": "#d6d6d6", "cornerRadius": 3
          }
        }
      }
    },
    {
      "data": {"values": [{}]},
      "mark": {"type": "point", "opacity": 0},
      "encoding": {
        "x": {
          "datum": 0, "type": "quantitative",
          "scale": {"domain": [0, 1440], "nice": false, "zero": false},
          "axis": {
            "orient": "top", "title": "Reflectivity from METEK MIRA-35 DCR and OTT HydroMet Parsivel2 disdrometer",
            "labels": false, "ticks": false, "domain": true, "domainColor": "black", "grid": false,
            "titleFontStyle": "italic", "titleFontSize": 16.5, "titleFontWeight": "normal", "titlePadding": 6
          }
        },
        "y": {
          "datum": 0, "type": "quantitative",
          "scale": {"domain": [-60, 30], "nice": false, "zero": false},
          "axis": {
            "orient": "left", "title": null, "labels": false, "domain": false, "grid": false, "tickSize": 3.5,
            "values": [-58, -56, -54, -52, -48, -46, -44, -42, -38, -36, -34, -32, -28, -26, -24, -22, -18, -16, -14, -12, -8, -6, -4, -2, 2, 4, 6, 8, 12, 14, 16, 18, 22, 24, 26, 28]
          }
        }
      }
    },
    {
      "data": {"values": [{}]},
      "mark": {"type": "point", "opacity": 0},
      "encoding": {
        "x": {
          "datum": 0, "type": "quantitative",
          "scale": {"domain": [0, 1440], "nice": false, "zero": false},
          "axis": {
            "orient": "bottom", "title": null, "labels": false, "domain": false, "grid": false, "tickSize": 3.5,
            "values": [60, 120, 240, 300, 420, 480, 600, 660, 780, 840, 960, 1020, 1140, 1200, 1320, 1380]
          }
        },
        "y": {
          "datum": 0, "type": "quantitative",
          "scale": {"domain": [-60, 30], "nice": false, "zero": false},
          "axis": {
            "orient": "left", "title": null, "labels": false, "ticks": false, "domain": false, "grid": true,
            "values": [-50, -40, -30, -20, -10, 0, 10, 20]
          }
        }
      }
    },
    {
      "data": {"values": [{}]},
      "mark": {
        "type": "arc", "theta": -0.84, "theta2": 0.84, "radius": 97, "radius2": 93.5,
        "fill": {"gradient": "linear", "x1": 0, "y1": 0, "x2": 1, "y2": 0,
          "stops": [{"offset": 0, "color": "#86d3cb"}, {"offset": 0.45, "color": "#2b7f8e"}, {"offset": 0.75, "color": "#14224a"}, {"offset": 1, "color": "#0f1236"}]}
      },
      "encoding": {
        "x": {"datum": 1240, "type": "quantitative", "scale": {"domain": [0, 1440], "nice": false, "zero": false}, "axis": null},
        "y": {"datum": 33.0, "type": "quantitative", "scale": {"domain": [-60, 30], "nice": false, "zero": false}, "axis": null}
      }
    },
    {
      "data": {"values": [{}]},
      "mark": {
        "type": "rect",
        "fill": {"gradient": "linear", "x1": 0, "y1": 0, "x2": 0, "y2": 1,
          "stops": [{"offset": 0, "color": "#ffffff"}, {"offset": 0.45, "color": "#0f1236"}, {"offset": 1, "color": "#0f1236"}]}
      },
      "encoding": {
        "x": {"datum": 1282.2, "type": "quantitative", "scale": {"domain": [0, 1440], "nice": false, "zero": false}, "axis": null},
        "x2": {"datum": 1284.2},
        "y": {"datum": 45.1, "type": "quantitative", "scale": {"domain": [-60, 30], "nice": false, "zero": false}, "axis": null},
        "y2": {"datum": 39.6}
      }
    },
    {
      "data": {"values": [{}]},
      "mark": {"type": "text", "text": "A\u2002C\u2002T\u2002R\u2002I\u2002S", "fontSize": 26, "color": "#0f1236", "align": "center", "baseline": "middle"},
      "encoding": {
        "x": {"datum": 1239, "type": "quantitative", "scale": {"domain": [0, 1440], "nice": false, "zero": false}, "axis": null},
        "y": {"datum": 38.0, "type": "quantitative", "scale": {"domain": [-60, 30], "nice": false, "zero": false}, "axis": null}
      }
    },
    {
      "data": {"values": [{}]},
      "mark": {"type": "text", "text": "CCRES", "fontSize": 16, "color": "#0f1236", "align": "center", "baseline": "middle"},
      "encoding": {
        "x": {"datum": 1238.5, "type": "quantitative", "scale": {"domain": [0, 1440], "nice": false, "zero": false}, "axis": null},
        "y": {"datum": 35.3, "type": "quantitative", "scale": {"domain": [-60, 30], "nice": false, "zero": false}, "axis": null}
      }
    }
  ],
  "resolve": {"axis": {"x": "independent", "y": "independent"}}
}
